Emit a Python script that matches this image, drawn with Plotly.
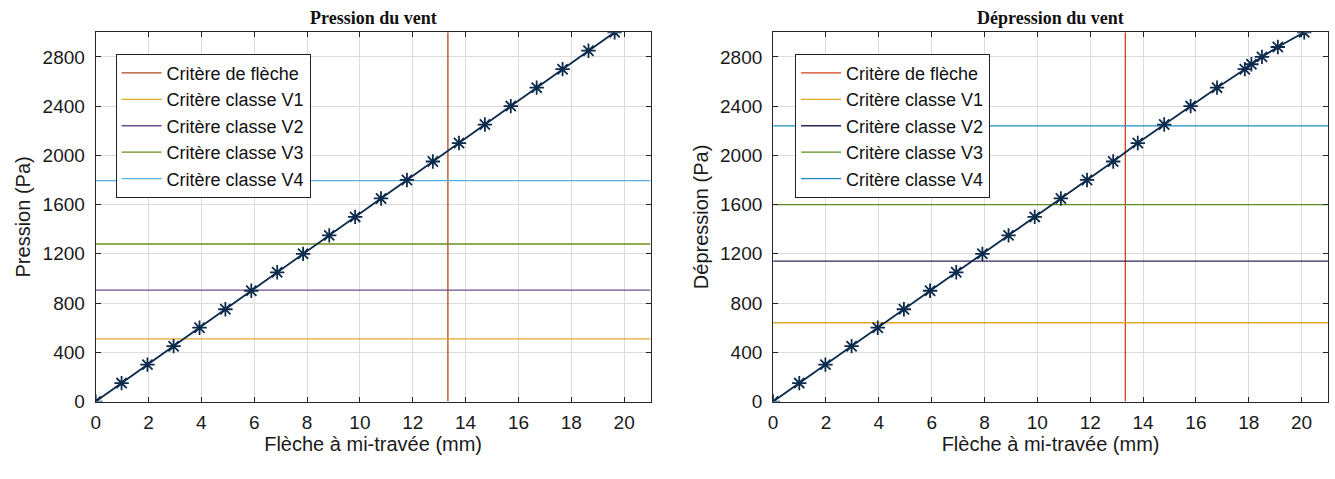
import plotly.graph_objects as go

# ---- data ----
criteria_names = ["Critère de flèche", "Critère classe V1", "Critère classe V2",
                  "Critère classe V3", "Critère classe V4"]

# Pression du vent (left)
p_fleche = [0, 0.98, 1.96, 2.95, 3.93, 4.91, 5.89, 6.87, 7.85, 8.84, 9.82,
            10.8, 11.78, 12.76, 13.75, 14.73, 15.71, 16.69, 17.67, 18.65, 19.64]
p_pression = [0, 150, 300, 450, 600, 750, 900, 1050, 1200, 1350, 1500,
              1650, 1800, 1950, 2100, 2250, 2400, 2550, 2700, 2850, 3000]
p_critere_fleche = 13.33
p_classes = [510, 905, 1280, 1795]

# Dépression du vent (right)
d_fleche = [0, 0.99, 1.98, 2.97, 3.96, 4.95, 5.94, 6.93, 7.92, 8.91, 9.9,
            10.89, 11.88, 12.87, 13.8, 14.8, 15.8, 16.8, 17.85, 18.1, 18.5, 19.1, 20.1]
d_pression = [0, 150, 300, 450, 600, 750, 900, 1050, 1200, 1350, 1500,
              1650, 1800, 1950, 2100, 2250, 2400, 2550, 2700, 2740, 2800, 2880, 3000]
d_critere_fleche = 13.33
d_classes = [640, 1140, 1600, 2240]

x_ticks = [0, 2, 4, 6, 8, 10, 12, 14, 16, 18, 20]
y_ticks = [0, 400, 800, 1200, 1600, 2000, 2400, 2800]
x_max = 21
y_max = 3000

left_colors = ["#B0481E", "#E2AA22", "#6E4F8C", "#6B8E23", "#52B4E0"]
right_colors = ["#D8421A", "#E0A828", "#2E2452", "#5E8E22", "#1E8CC4"]

W, H = 1335, 479
fig = go.Figure()


def add_panel(xa, ya, legend, fleche, pression, crit_x, classes, colors):
    # vertical deflection criterion
    fig.add_trace(go.Scatter(x=[crit_x, crit_x], y=[0, y_max], mode="lines",
                             line=dict(color=colors[0], width=1.3),
                             name=criteria_names[0], xaxis=xa, yaxis=ya,
                             legend=legend))
    for i, val in enumerate(classes):
        fig.add_trace(go.Scatter(x=[0, x_max], y=[val, val], mode="lines",
                                 line=dict(color=colors[i + 1], width=1.3),
                                 name=criteria_names[i + 1], xaxis=xa, yaxis=ya,
                                 legend=legend))
    fig.add_trace(go.Scatter(x=fleche, y=pression, mode="lines+markers",
                             line=dict(color="#0C2B4C", width=1.8),
                             marker=dict(symbol="asterisk-open", size=12,
                                         line=dict(color="#0D62B0", width=1.8)),
                             showlegend=False, xaxis=xa, yaxis=ya))


add_panel("x", "y", "legend", p_fleche, p_pression, p_critere_fleche, p_classes, left_colors)
add_panel("x2", "y2", "legend2", d_fleche, d_pression, d_critere_fleche, d_classes, right_colors)

font_sans = "Liberation Sans Narrow, Liberation Sans, Arial, sans-serif"
axis_common = dict(showline=True, linecolor="#262626", linewidth=1, mirror="ticks",
                   ticks="inside", ticklen=5, tickcolor="#262626",
                   showgrid=True, gridcolor="#DCDCDC", gridwidth=1, zeroline=False,
                   tickfont=dict(family=font_sans, size=19, color="#1a1a1a"),
                   title_font=dict(family=font_sans, size=20, color="#1a1a1a"))

ydom = [1 - 411 / H, 1 - 33 / H]
leg_common = dict(xanchor="left", yanchor="top", bgcolor="white", bordercolor="#222",
                  borderwidth=1, font=dict(family=font_sans, size=18, color="#111"),
                  tracegroupgap=0, itemwidth=40)
title_font = dict(family="Liberation Serif, Times New Roman, serif", size=18, color="#111")
fig.update_layout(
    width=W, height=H, margin=dict(l=0, r=0, t=0, b=0),
    paper_bgcolor="white", plot_bgcolor="white",
    xaxis=dict(domain=[91 / W, 648 / W], range=[0, x_max], tickvals=x_ticks,
               ticklabelstandoff=4,
               title=dict(text="Flèche à mi-travée (mm)", standoff=4), anchor="y", **axis_common),
    yaxis=dict(domain=ydom, range=[0, y_max], tickvals=y_ticks, ticklabelstandoff=6,
               title=dict(text="Pression (Pa)", standoff=6), anchor="x", **axis_common),
    xaxis2=dict(domain=[771 / W, 1328 / W], range=[0, x_max], tickvals=x_ticks,
                ticklabelstandoff=4,
                title=dict(text="Flèche à mi-travée (mm)", standoff=4), anchor="y2", **axis_common),
    yaxis2=dict(domain=ydom, range=[0, y_max], tickvals=y_ticks, ticklabelstandoff=6,
                title=dict(text="Dépression (Pa)", standoff=6), anchor="x2", **axis_common),
    legend=dict(x=111 / W, y=1 - 55 / H, **leg_common),
    legend2=dict(x=793 / W, y=1 - 55 / H, **leg_common),
    annotations=[
        dict(text="<b>Pression du vent</b>", x=(91 + 648) / 2 / W, y=1 - 18 / H,
             xref="paper", yref="paper", showarrow=False, xanchor="center", yanchor="middle",
             font=title_font),
        dict(text="<b>Dépression du vent</b>", x=(771 + 1328) / 2 / W, y=1 - 18 / H,
             xref="paper", yref="paper", showarrow=False, xanchor="center", yanchor="middle",
             font=title_font),
    ],
)

fig.write_html("out.html", config={"displayModeBar": False},
               post_script="document.body.style.margin='0';document.body.style.padding='0';")
